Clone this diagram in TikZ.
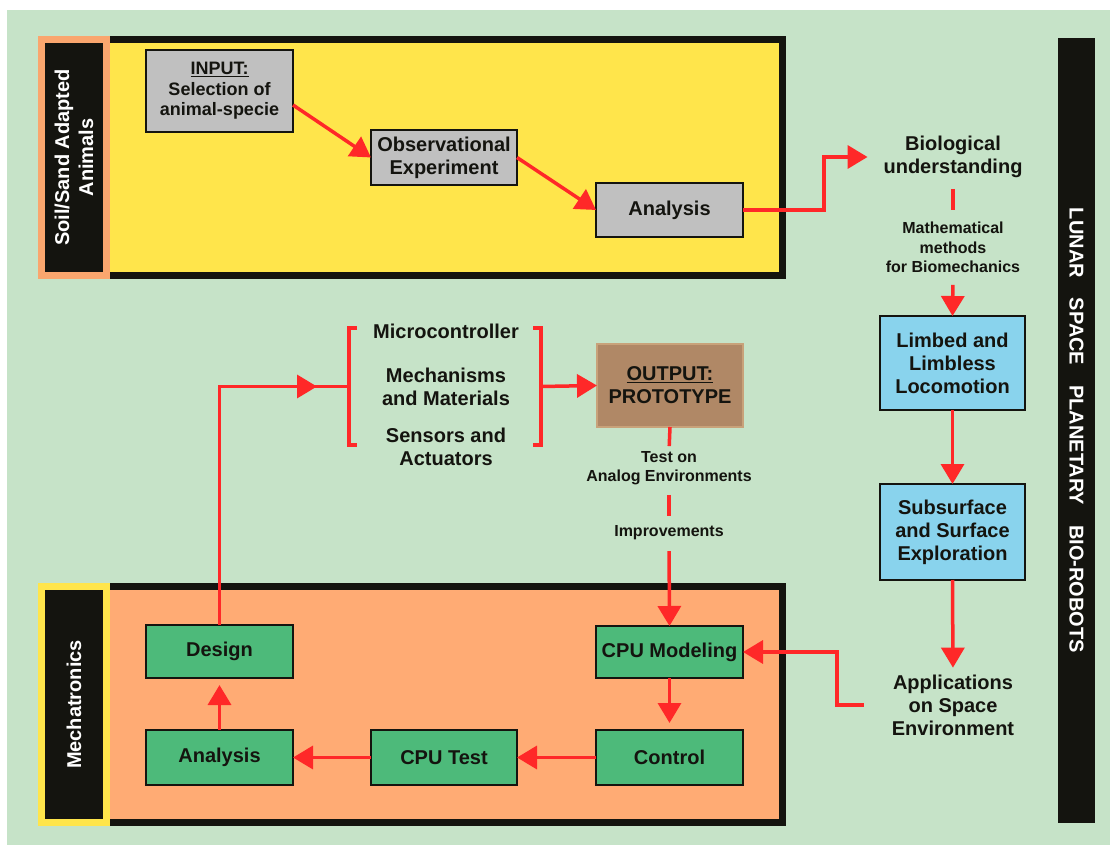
\documentclass[tikz,border=0pt]{standalone}
\usepackage{fontspec}
\setmainfont{Liberation Sans}
\usetikzlibrary{arrows.meta,decorations.markings,calc}

\definecolor{bggreen}{RGB}{198,227,200}
\definecolor{pyellow}{RGB}{255,229,75}
\definecolor{porange}{RGB}{255,171,116}
\definecolor{lorange}{RGB}{250,166,110}
\definecolor{boxgray}{RGB}{192,192,192}
\definecolor{boxblue}{RGB}{137,211,237}
\definecolor{boxgreen}{RGB}{77,186,122}
\definecolor{boxbrown}{RGB}{176,136,102}
\definecolor{brownedge}{RGB}{200,162,122}
\definecolor{lred}{RGB}{255,40,40}
\definecolor{ink}{RGB}{20,20,15}

\tikzset{
  panel/.style={draw=ink, line width=7pt, inner sep=0pt, outer sep=0pt, anchor=north west},
  mybox/.style n args={2}{draw=ink, line width=2.5pt, inner sep=0pt, outer sep=0pt,
    minimum width=#1, minimum height=#2, align=center, text=ink,
    font=\fontsize{20}{23}\selectfont\bfseries},
  lbl/.style={inner sep=0pt, outer sep=0pt, align=center, text=ink,
    font=\fontsize{20}{23}\selectfont\bfseries},
  smalllbl/.style={inner sep=0pt, outer sep=0pt, align=center, text=ink,
    font=\fontsize{16}{19.5}\selectfont\bfseries},
  sidelbl/.style={inner sep=0pt, outer sep=0pt, align=center, text=white,
    font=\fontsize{20}{24}\selectfont\bfseries},
  ln/.style={draw=lred, line width=3.5pt},
  arr/.style={draw=lred, line width=3.5pt, -{Triangle[length=20pt,width=23pt]}},
}

\begin{document}
\begin{tikzpicture}[x=1pt,y=-1pt]
% background
\fill[white] (0,0) rectangle (1110,845);
\fill[bggreen] (7,10) rectangle (1110,845);

% top panel
\node[panel, fill=pyellow, minimum width=741, minimum height=236] (toppanel) at (41.5,39.5) {};
\node[panel, draw=lorange, fill=ink, minimum width=65, minimum height=236] (toplabel) at (41.5,39.5) {};
\node[sidelbl, rotate=90] (soiltxt) at (toplabel.center) {Soil/Sand Adapted\\Animals};

% bottom panel
\node[panel, fill=porange, minimum width=741, minimum height=236] (botpanel) at (41.5,586.5) {};
\node[panel, draw=pyellow, fill=ink, minimum width=65, minimum height=236] (botlabel) at (41.5,586.5) {};
\node[sidelbl, rotate=90] (mechtxt) at (botlabel.center) {Mechatronics};

% right bar
\node[fill=ink, inner sep=0pt, outer sep=0pt, minimum width=37, minimum height=785, anchor=north west] (bar) at (1058,38) {};
\node[sidelbl, rotate=-90] (bartxt) at (bar.center) {LUNAR\quad SPACE\quad PLANETARY\quad BIO-ROBOTS};

% top boxes
\node[mybox={147}{82}, fill=boxgray, font=\fontsize{18}{20.5}\selectfont\bfseries] (input) at (219.5,91) {\underline{INPUT:}\\Selection of\\animal-specie};
\node[mybox={146}{55}, fill=boxgray] (obs) at (444,157.5) {Observational\\Experiment};
\node[mybox={147}{54}, fill=boxgray] (ana1) at (669.5,210) {Analysis};

% right column
\node[lbl] (bio) at (953,157) {Biological\\understanding};
\node[smalllbl] (math) at (953,247.5) {Mathematical\\methods\\for Biomechanics};
\node[mybox={145}{94}, fill=boxblue] (limbed) at (952.5,363) {Limbed and\\Limbless\\Locomotion};
\node[mybox={145}{96}, fill=boxblue] (subsurf) at (952.5,532) {Subsurface\\and Surface\\Exploration};
\node[lbl] (apps) at (953,705) {Applications\\on Space\\Environment};

% middle
\node[minimum width=192, minimum height=117, inner sep=0pt, outer sep=0pt] (grp) at (445,386.5) {};
\node[lbl] (micro) at (446,331) {Microcontroller};
\node[lbl] (mech) at (446,386.5) {Mechanisms\\and Materials};
\node[lbl] (sens) at (446,446.5) {Sensors and\\Actuators};
\node[mybox={146}{83}, fill=boxbrown, draw=brownedge, line width=1.5pt] (output) at (670,385.5) {\underline{OUTPUT:}\\PROTOTYPE};
\node[smalllbl] (teston) at (669,468) {Test on\\Analog Environments};
\node[smalllbl] (improv) at (669,533) {Improvements};

% bottom boxes
\node[mybox={147}{53}, fill=boxgreen] (design) at (219.5,651.5) {Design};
\node[mybox={147}{55}, fill=boxgreen] (ana2) at (219.5,757.5) {Analysis};
\node[mybox={146}{55}, fill=boxgreen] (cputest) at (444,757.5) {CPU Test};
\node[mybox={147}{55}, fill=boxgreen] (control) at (669.5,757.5) {Control};
\node[mybox={147}{52}, fill=boxgreen] (cpumod) at (669.5,652) {CPU Modeling};

% connectors top
\draw[arr] ([yshift=-14pt]input.east) -- (obs.west);
\draw[arr] (obs.east) -- (ana1.west);
\draw[arr] (ana1.east) -- ++(81,0) |- ([xshift=-16pt]bio.west);
\draw[ln, shorten <=11pt, shorten >=12pt] (bio.south) -- (math.north);
\draw[arr, shorten <=12pt] (math.south) -- (limbed.north);
\draw[arr] (limbed.south) -- (subsurf.north);
\draw[arr, shorten >=7pt] (subsurf.south) -- (apps.north);
\draw[arr] ([xshift=-28pt]apps.west) -- ++(-27,0) |- (cpumod.east);

% brackets
\draw[ln] ([xshift=8pt]grp.north west) -- (grp.north west) -- (grp.south west) -- ([xshift=8pt]grp.south west);
\draw[ln] ([xshift=-8pt]grp.north east) -- (grp.north east) -- (grp.south east) -- ([xshift=-8pt]grp.south east);
\draw[arr] (grp.east) -- (output.west);
\draw[ln, postaction={decorate}, decoration={markings, mark=at position -32pt with {\arrow[lred]{Triangle[length=20pt,width=23pt]}}}] (design.north) |- (grp.west);

% output chain
\draw[ln, shorten >=5pt] (output.south) -- (teston.north);
\draw[ln, shorten <=10pt, shorten >=10pt] (teston.south) -- (improv.north);
\draw[arr, shorten <=11pt] (improv.south) -- (cpumod.north);

% bottom loop
\draw[arr, shorten >=7pt] (cpumod.south) -- (control.north);
\draw[arr] (control.west) -- (cputest.east);
\draw[arr] (cputest.west) -- (ana2.east);
\draw[arr, shorten >=7pt] (ana2.north) -- (design.south);
\end{tikzpicture}
\end{document}
